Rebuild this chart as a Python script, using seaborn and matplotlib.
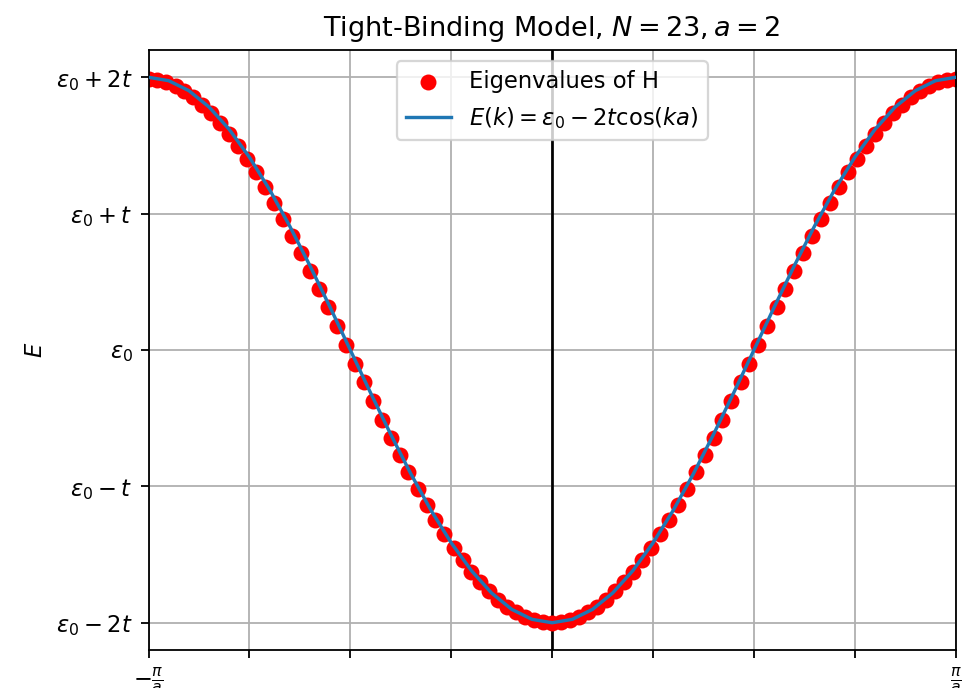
import pandas as pd
import seaborn as sns
import matplotlib.pyplot as plt

# k in units of pi/a, energies in units of t (relative to eps_0)
k_eig = [-1.0, -0.978, -0.956, -0.933, -0.911, -0.889, -0.867, -0.844, -0.822, -0.8,
         -0.778, -0.756, -0.733, -0.711, -0.689, -0.667, -0.644, -0.622, -0.6, -0.578,
         -0.556, -0.533, -0.511, -0.489, -0.467, -0.444, -0.422, -0.4, -0.378, -0.356,
         -0.333, -0.311, -0.289, -0.267, -0.244, -0.222, -0.2, -0.178, -0.156, -0.133,
         -0.111, -0.089, -0.067, -0.044, -0.022, 0.0,
         0.022, 0.044, 0.067, 0.089, 0.111, 0.133, 0.156, 0.178, 0.2, 0.222,
         0.244, 0.267, 0.289, 0.311, 0.333, 0.356, 0.378, 0.4, 0.422, 0.444,
         0.467, 0.489, 0.511, 0.533, 0.556, 0.578, 0.6, 0.622, 0.644, 0.667,
         0.689, 0.711, 0.733, 0.756, 0.778, 0.8, 0.822, 0.844, 0.867, 0.889,
         0.911, 0.933, 0.956, 0.978, 1.0]
E_eig = [1.990, 1.982, 1.965, 1.938, 1.901, 1.856, 1.800, 1.737, 1.665, 1.586,
         1.498, 1.403, 1.302, 1.195, 1.081, 0.963, 0.839, 0.712, 0.581, 0.448,
         0.312, 0.176, 0.038, -0.100, -0.238, -0.375, -0.510, -0.642, -0.771, -0.897,
         -1.018, -1.135, -1.246, -1.351, -1.449, -1.541, -1.625, -1.702, -1.770, -1.830,
         -1.882, -1.924, -1.957, -1.981, -1.995, -2.000,
         -1.995, -1.981, -1.957, -1.924, -1.882, -1.830, -1.770, -1.702, -1.625, -1.541,
         -1.449, -1.351, -1.246, -1.135, -1.018, -0.897, -0.771, -0.642, -0.510, -0.375,
         -0.238, -0.100, 0.038, 0.176, 0.312, 0.448, 0.581, 0.712, 0.839, 0.963,
         1.081, 1.195, 1.302, 1.403, 1.498, 1.586, 1.665, 1.737, 1.800, 1.856,
         1.901, 1.938, 1.965, 1.982, 1.990]

k_line = [-1.0, -0.95, -0.9, -0.85, -0.8, -0.75, -0.7, -0.65, -0.6, -0.55,
          -0.5, -0.45, -0.4, -0.35, -0.3, -0.25, -0.2, -0.15, -0.1, -0.05, 0.0,
          0.05, 0.1, 0.15, 0.2, 0.25, 0.3, 0.35, 0.4, 0.45, 0.5,
          0.55, 0.6, 0.65, 0.7, 0.75, 0.8, 0.85, 0.9, 0.95, 1.0]
E_line = [2.0, 1.975, 1.902, 1.782, 1.618, 1.414, 1.176, 0.908, 0.618, 0.313,
          0.0, -0.313, -0.618, -0.908, -1.176, -1.414, -1.618, -1.782, -1.902, -1.975, -2.0,
          -1.975, -1.902, -1.782, -1.618, -1.414, -1.176, -0.908, -0.618, -0.313, 0.0,
          0.313, 0.618, 0.908, 1.176, 1.414, 1.618, 1.782, 1.902, 1.975, 2.0]

x_ticks = [-1, -0.75, -0.5, -0.25, 0, 0.25, 0.5, 0.75, 1]
x_labels = [r'$-\frac{\pi}{a}$', '', '', '', '', '', '', '', r'$\frac{\pi}{a}$']
y_ticks = [2, 1, 0, -1, -2]
y_labels = [r'$\varepsilon_0 + 2t$', r'$\varepsilon_0 + t$', r'$\varepsilon_0$',
            r'$\varepsilon_0 - t$', r'$\varepsilon_0 - 2t$']

df_eig = pd.DataFrame({"k": k_eig, "E": E_eig})
df_line = pd.DataFrame({"k": k_line, "E": E_line})

dpi = 162.5
fig = plt.figure(figsize=(965 / dpi, 688 / dpi), dpi=dpi)
ax = fig.add_axes([0.1539, 0.0552, 0.8365, 0.8721])

sns.scatterplot(data=df_eig, x="k", y="E", color="red", s=50, linewidth=0,
                label="Eigenvalues of H", ax=ax, zorder=2)
sns.lineplot(data=df_line, x="k", y="E", color="C0", linewidth=1.5, sort=False,
             label=r'$E(k) = \varepsilon_0 - 2t\cos(ka)$', ax=ax, zorder=3)
ax.axvline(0, color="black", linewidth=1.2, zorder=1)

ax.set_xlim(-1, 1)
ax.set_ylim(-2.2, 2.2)
ax.set_xticks(x_ticks)
ax.set_xticklabels(x_labels)
ax.set_yticks(y_ticks)
ax.set_yticklabels(y_labels)
ax.grid(True)
ax.set_axisbelow(True)
ax.set_xlabel("")
ax.set_ylabel("$E$")
ax.set_title(r'Tight-Binding Model, $N = 23, a = 2$')
ax.legend(loc="upper center")

fig.savefig("out.png", dpi=dpi)
